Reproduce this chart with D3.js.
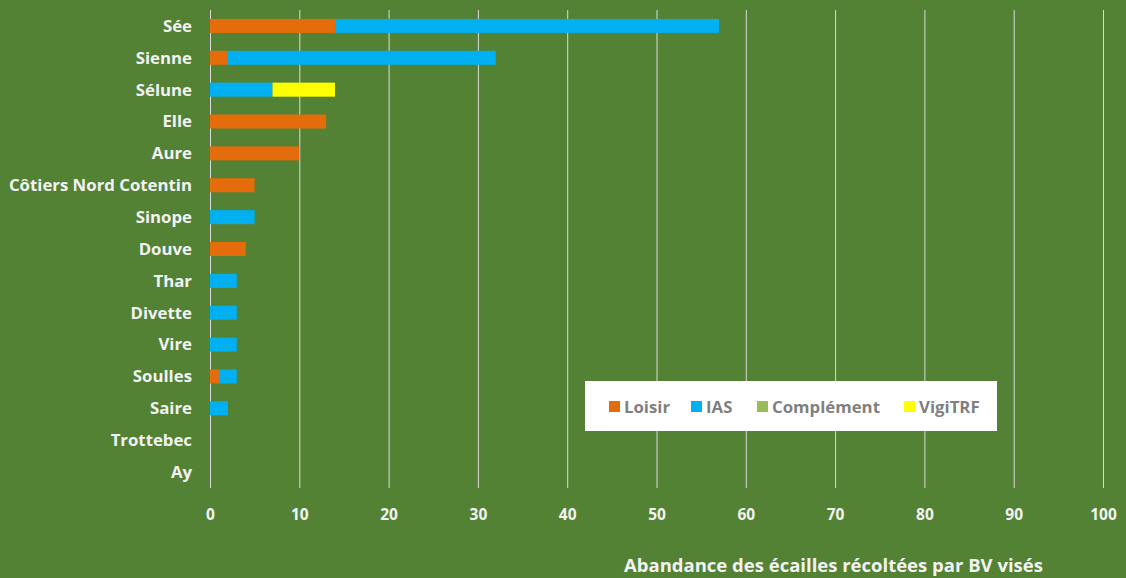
<!DOCTYPE html>
<html>
<head>
<meta charset="utf-8">
<script src="https://cdn.jsdelivr.net/npm/d3@7"></script>
<style>
  body { margin: 0; background: #548235; }
  svg { display: block; font-family: "Open Sans", sans-serif; }
</style>
</head>
<body>
<div id="chart"></div>
<script>
// data
const categories = ["Sée", "Sienne", "Sélune", "Elle", "Aure", "Côtiers Nord Cotentin", "Sinope",
  "Douve", "Thar", "Divette", "Vire", "Soulles", "Saire", "Trottebec", "Ay"];
const seriesNames = ["Loisir", "IAS", "Complément", "VigiTRF"];
const loisir     = [14, 2, 0, 13, 10, 5, 0, 4, 0, 0, 0, 1, 0, 0, 0];
const ias        = [43, 30, 7, 0, 0, 0, 5, 0, 3, 3, 3, 2, 2, 0, 0];
const complement = [0, 0, 0, 0, 0, 0, 0, 0, 0, 0, 0, 0, 0, 0, 0];
const vigitrf    = [0, 0, 7, 0, 0, 0, 0, 0, 0, 0, 0, 0, 0, 0, 0];
const xTicks = [0, 10, 20, 30, 40, 50, 60, 70, 80, 90, 100];
const colors = ["#E46C0A", "#00B0F0", "#9BBB59", "#FFFF00"];
const xTitle = "Abandance des écailles récoltées par BV visés";

const W = 1126, H = 578;
const margin = {top: 10, right: 23, bottom: 90, left: 210};
const width = W - margin.left - margin.right,
      height = H - margin.top - margin.bottom;

const table = categories.map((c, i) => ({
  cat: c, "Loisir": loisir[i], "IAS": ias[i], "Complément": complement[i], "VigiTRF": vigitrf[i]
}));
const stacked = d3.stack().keys(seriesNames)(table);

const svg = d3.select("#chart").append("svg").attr("width", W).attr("height", H)
  .style("background", "#548235");
const g = svg.append("g").attr("transform", "translate(" + margin.left + "," + margin.top + ")");

const x = d3.scaleLinear().domain([0, 100]).range([0, width]);
const y = d3.scaleBand().domain(categories).range([0, height]).paddingInner(0.56).paddingOuter(0.28);
const color = d3.scaleOrdinal().domain(seriesNames).range(colors);

// gridlines
g.append("g").selectAll("line").data(xTicks).enter().append("line")
  .attr("x1", d => x(d) + 0.5).attr("x2", d => x(d) + 0.5)
  .attr("y1", 0).attr("y2", height)
  .attr("stroke", "#D9D9D9").attr("stroke-width", 1);

// bars
g.selectAll(".serie").data(stacked).enter().append("g")
  .attr("class", "serie").attr("fill", d => color(d.key))
  .selectAll("rect").data(d => d).enter().append("rect")
  .attr("x", d => x(d[0]))
  .attr("width", d => x(d[1]) - x(d[0]))
  .attr("y", d => y(d.data.cat))
  .attr("height", y.bandwidth());

// category labels
g.append("g").selectAll("text").data(categories).enter().append("text")
  .attr("x", -18).attr("y", d => y(d) + y.bandwidth() / 2)
  .attr("dy", "0.35em").attr("text-anchor", "end")
  .attr("fill", "#F2F2F2").style("font-size", "16.8px").style("font-weight", "bold")
  .text(d => d);

// x axis labels
const xAxis = g.append("g").attr("transform", "translate(0," + height + ")")
  .call(d3.axisBottom(x).tickValues(xTicks).tickSize(0).tickPadding(21));
xAxis.select(".domain").remove();
xAxis.selectAll("text").attr("fill", "#F2F2F2").style("font-size", "15.5px")
  .style("font-weight", "bold").style("font-family", "'Open Sans', sans-serif");

svg.append("text").attr("x", 624).attr("y", 572)
  .attr("fill", "#F2F2F2").style("font-size", "18.5px").style("font-weight", "bold")
  .text(xTitle);

// legend
const legend = svg.append("g").attr("transform", "translate(585,381)");
legend.append("rect").attr("width", 412).attr("height", 50).attr("fill", "#fff");
const legendX = [24, 106, 172, 319];
const items = legend.selectAll(".item").data(seriesNames).enter().append("g")
  .attr("transform", (d, i) => "translate(" + legendX[i] + ",25)");
items.append("rect").attr("y", -5).attr("width", 11).attr("height", 11).attr("fill", d => color(d));
items.append("text").attr("x", 15).attr("dy", "0.35em").attr("y", 1)
  .attr("fill", "#7F7F7F").style("font-size", "16.8px").style("font-weight", "bold")
  .text(d => d);
</script>
</body>
</html>
